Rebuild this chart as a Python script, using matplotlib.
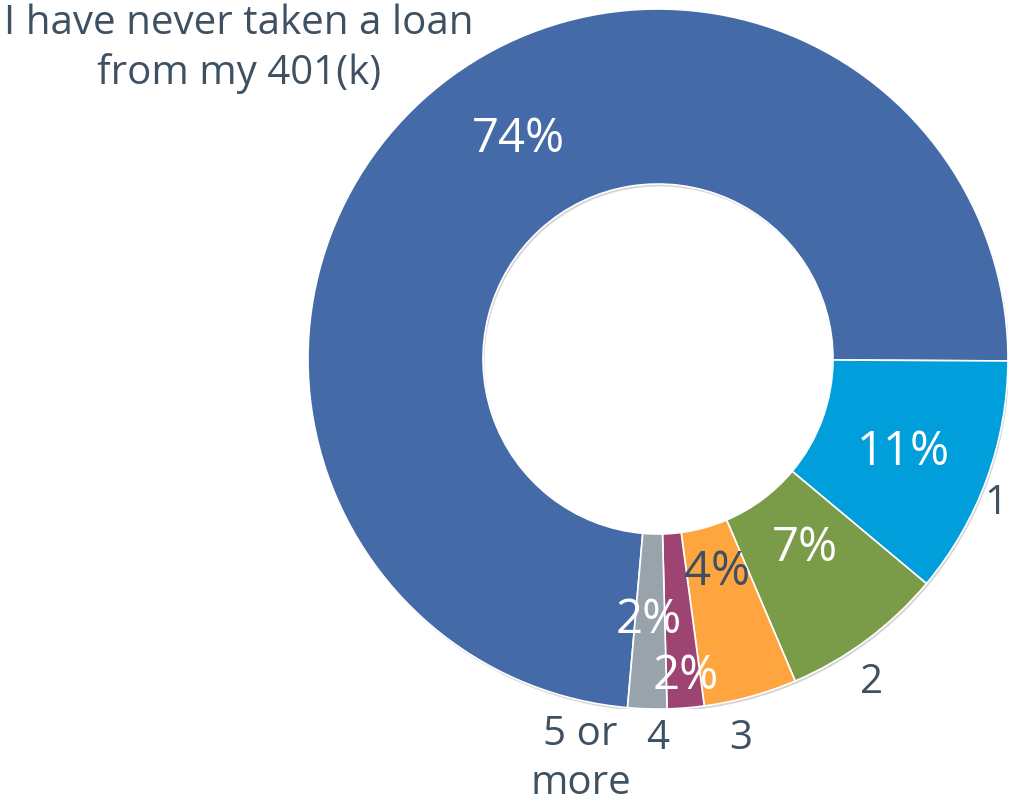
import numpy as np
import matplotlib
matplotlib.use("Agg")
import matplotlib.pyplot as plt
from matplotlib.patches import Wedge

plt.rcParams['font.family'] = ['Open Sans', 'DejaVu Sans']

categories = ["I have never taken a loan\nfrom my 401(k)", "1", "2", "3", "4", "5 or\nmore"]
values = [73.7, 11.0, 7.5, 4.3, 1.7, 1.8]
pct_labels = ["74%", "11%", "7%", "4%", "2%", "2%"]
colors = ["#446AA8", "#009FDB", "#7A9B48", "#FFA53F", "#9E4473", "#98A3AC"]
pct_colors = ["white", "white", "white", "#3E5162", "white", "white"]
text_color = "#3E5162"

# label placement (radius, angle offset in degrees from wedge mid-angle)
pct_pos = [(0.744, -10.0), (0.751, -0.7), (0.684, 1.3), (0.633, 0.2), (0.909, 0.5), (0.746, -0.3)]
cat_pos = [(None, None), (1.05, -3.0), (1.108, -3.2), (1.111, -3.0), (1.086, -4.6), (1.165, -9.2)]

W, H = 1011, 806
fig = plt.figure(figsize=(W / 100, H / 100), dpi=100)
cx, cy, R = 658, 359, 350
ax = fig.add_axes([(cx - R) / W, (H - cy - R) / H, 2 * R / W, 2 * R / H])

# subtle shadow ring
sh = Wedge((0.004, -0.007), 1.0, 0, 360, width=0.5, facecolor='#888888', alpha=0.35,
           edgecolor='none', zorder=0)
ax.add_patch(sh)

wedges, _ = ax.pie(values, colors=colors, startangle=265, counterclock=False,
                   radius=1.0, wedgeprops=dict(width=0.5, edgecolor='white', linewidth=1.2),
                   center=(0, 0), frame=False)
for w in wedges:
    w.set_zorder(1)
ax.set_xlim(-1, 1)
ax.set_ylim(-1, 1)
ax.set_aspect('equal')
ax.axis('off')

for i, w in enumerate(wedges):
    mid = (w.theta1 + w.theta2) / 2.0
    r, off = pct_pos[i]
    a = np.deg2rad(mid + off)
    ax.text(r * np.cos(a), r * np.sin(a), pct_labels[i], color=pct_colors[i],
            fontsize=34, ha='center', va='center', zorder=5)
    if i > 0:
        r2, off2 = cat_pos[i]
        a2 = np.deg2rad(mid + off2)
        ax.text(r2 * np.cos(a2), r2 * np.sin(a2), categories[i], color=text_color,
                fontsize=29, ha='center', va='center', linespacing=1.28, zorder=5)

# label for the large slice sits in the upper-left corner
fig.text(239 / W, 1 - 3 / H, categories[0], color=text_color, fontsize=29,
         ha='center', va='top', linespacing=1.3)

fig.savefig("out.png", dpi=100, facecolor='white')
